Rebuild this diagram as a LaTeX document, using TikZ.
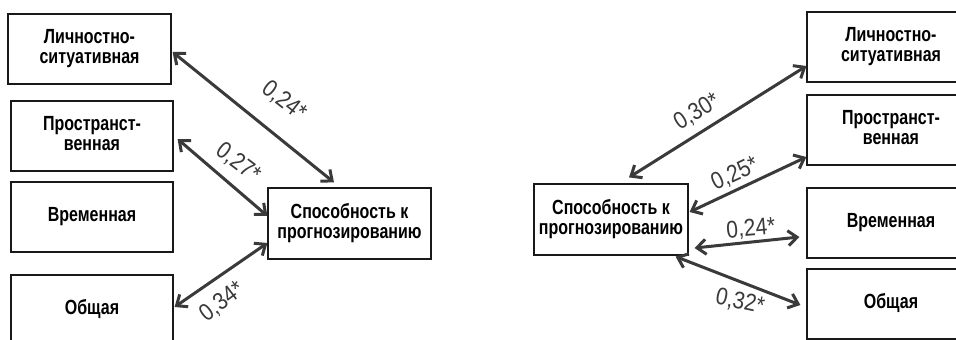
\documentclass[tikz,border=0pt]{standalone}
\usepackage{fontspec}
\usepackage{graphicx}
\setmainfont{Liberation Sans}
\usetikzlibrary{arrows.meta}
\definecolor{arr}{HTML}{3A3A3A}
\newcommand{\boxtxt}[1]{\scalebox{1}[1.28]{\begin{tabular}{@{}c@{}}#1\end{tabular}}}
\newcommand{\valtxt}[1]{\scalebox{1}[1.15]{#1}}
\begin{document}
\begin{tikzpicture}[x=1pt,y=-1pt,
  box/.style={draw=black!90, line width=1.2pt, minimum width=163pt, minimum height=70pt,
     inner sep=0pt, font=\fontsize{16}{15.6}\selectfont\bfseries},
  link/.style={draw=arr, line width=3pt, {Straight Barb[length=9pt,width=15pt,line width=3pt]}-{Straight Barb[length=9pt,width=15pt,line width=3pt]}},
  val/.style={text=arr, font=\fontsize{21}{22}\selectfont, inner sep=0pt}]
\useasboundingbox (0,0) rectangle (956,340);
\clip (0,0) rectangle (956,340);
\fill[white] (0,0) rectangle (956,340);
% left panel
\node[box] (L1) at (89.5,49) {\boxtxt{Личностно-\\ситуативная}};
\node[box, minimum width=162pt] (L2) at (92,136) {\boxtxt{Пространст-\\венная}};
\node[box, minimum width=162pt] (L3) at (92,217) {\boxtxt{Временная}};
\node[box, minimum width=162pt] (L4) at (92,310) {\boxtxt{Общая}};
\node[box, minimum height=71pt] (C1) at (349.5,223.5) {\boxtxt{Способность к\\прогнозированию}};
\draw[link] ([xshift=1pt,yshift=-3pt]L1.east) -- ([xshift=-15.5pt,yshift=5pt]C1.north);
\draw[link] ([xshift=4pt,yshift=-3pt]L2.east) -- ([yshift=7.5pt]C1.west);
\draw[link] ([xshift=1pt,yshift=3pt]L4.east) -- ([yshift=-19.5pt]C1.west);
\node[val, rotate=-38] (v1) at (284,101) {\valtxt{0,24*}};
\node[val, rotate=-37] (v2) at (238,163) {\valtxt{0,27*}};
\node[val, rotate=37] (v3) at (222,302) {\valtxt{0,34*}};
% right panel
\node[box, minimum width=154pt, minimum height=71pt] (C2) at (611,219.5) {\boxtxt{Способность к\\прогнозированию}};
\node[box, minimum width=168pt] (R1) at (891,47) {\boxtxt{Личностно-\\ситуативная}};
\node[box, minimum width=168pt] (R2) at (891,130) {\boxtxt{Пространст-\\венная}};
\node[box, minimum width=168pt] (R3) at (891,223) {\boxtxt{Временная}};
\node[box, minimum width=168pt] (R4) at (891,304) {\boxtxt{Общая}};
\draw[link] ([xshift=18pt,yshift=6pt]C2.north) -- ([yshift=-19pt]R1.west);
\draw[link] ([xshift=1pt,yshift=7.5pt]C2.east) -- ([yshift=-27pt]R2.west);
\draw[link] ([xshift=6pt,yshift=-28.5pt]C2.east) -- ([xshift=-7pt,yshift=-14pt]R3.west);
\draw[link] ([xshift=-13pt,yshift=-1pt]C2.south east) -- ([xshift=-6pt,yshift=-1pt]R4.west);
\node[val, rotate=32] (v4) at (697,112) {\valtxt{0,30*}};
\node[val, rotate=25] (v5) at (735,174) {\valtxt{0,25*}};
\node[val, rotate=5] (v6) at (751,229) {\valtxt{0,24*}};
\node[val, rotate=-12] (v7) at (740,302) {\valtxt{0,32*}};
\end{tikzpicture}
\end{document}
